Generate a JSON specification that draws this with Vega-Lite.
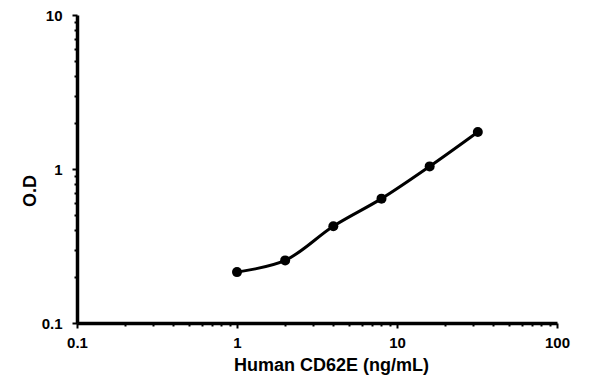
{
  "$schema": "https://vega.github.io/schema/vega-lite/v6.json",
  "width": 480,
  "height": 308,
  "autosize": {"type": "none"},
  "padding": {"left": 77, "top": 15, "right": 38, "bottom": 61},
  "background": "white",
  "config": {"view": {"stroke": null}, "font": "Liberation Sans"},
  "data": {"values": [
    {"conc": 1, "od": 0.214},
    {"conc": 2, "od": 0.255},
    {"conc": 4, "od": 0.425},
    {"conc": 8, "od": 0.642},
    {"conc": 16, "od": 1.04},
    {"conc": 32, "od": 1.74}
  ]},
  "encoding": {
    "x": {
      "field": "conc", "type": "quantitative",
      "scale": {"type": "log", "domain": [0.1, 100], "nice": false},
      "axis": {
        "title": "Human CD62E (ng/mL)",
        "values": [0.1,0.2,0.3,0.4,0.5,0.6,0.7,0.8,0.9,1,2,3,4,5,6,7,8,9,10,20,30,40,50,60,70,80,90,100],
        "labelExpr": "datum.value==0.1?'0.1':datum.value==1?'1':datum.value==10?'10':datum.value==100?'100':''",
        "labelOverlap": false,
        "labelFlush": false,
        "grid": false,
        "domainColor": "black", "domainWidth": 3.5,
        "tickColor": "black", "tickWidth": 2,
        "tickSize": {"condition": {"test": "datum.value==0.1||datum.value==1||datum.value==10||datum.value==100", "value": 5}, "value": 3},
        "labelPadding": 7,
        "labelFont": "Liberation Sans", "labelFontWeight": "bold", "labelFontSize": 15, "labelColor": "black",
        "titleFont": "Liberation Sans", "titleFontWeight": "bold", "titleFontSize": 18, "titleColor": "black",
        "titleX": 254, "titleY": 47, "titleAlign": "center", "titleBaseline": "alphabetic"
      }
    },
    "y": {
      "field": "od", "type": "quantitative",
      "scale": {"type": "log", "domain": [0.1, 10], "nice": false},
      "axis": {
        "title": "O.D",
        "values": [0.1,0.2,0.3,0.4,0.5,0.6,0.7,0.8,0.9,1,2,3,4,5,6,7,8,9,10],
        "labelExpr": "datum.value==0.1?'0.1':datum.value==1?'1':datum.value==10?'10':''",
        "labelOverlap": false,
        "labelFlush": false,
        "grid": false,
        "domainColor": "black", "domainWidth": 3.5,
        "tickColor": "black", "tickWidth": 2,
        "tickSize": {"condition": {"test": "datum.value==0.1||datum.value==1||datum.value==10", "value": 5}, "value": 3},
        "labelPadding": 10,
        "labelFont": "Liberation Sans", "labelFontWeight": "bold", "labelFontSize": 15, "labelColor": "black",
        "titleFont": "Liberation Sans", "titleFontWeight": "bold", "titleFontSize": 18, "titleColor": "black",
        "titleX": -47, "titleY": 175.5, "titleAlign": "center", "titleBaseline": "middle", "titleAngle": -90
      }
    }
  },
  "layer": [
    {"mark": {"type": "line", "color": "black", "strokeWidth": 3, "interpolate": "catmull-rom"}},
    {"mark": {"type": "point", "filled": true, "color": "black", "opacity": 1, "size": 100}}
  ]
}
